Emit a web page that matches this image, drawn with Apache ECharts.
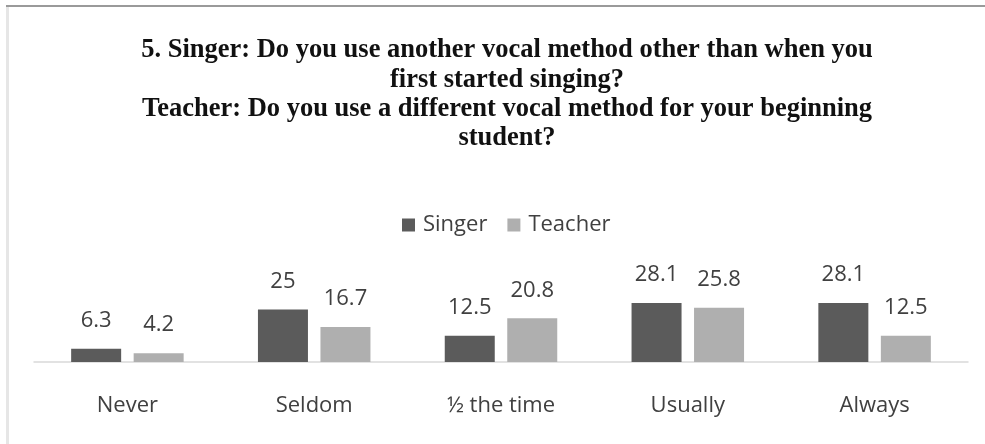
<!DOCTYPE html>
<html>
<head>
<meta charset="utf-8">
<script src="https://cdn.jsdelivr.net/npm/echarts@6/dist/echarts.min.js"></script>
<style>
  html, body { margin: 0; padding: 0; background: #fff; }
  #chart { width: 985px; height: 444px; }
</style>
</head>
<body>
<div id="chart"></div>
<script>
// Survey answers, percent of respondents
const categories = ['Never', 'Seldom', '\u00BD the time', 'Usually', 'Always'];
const singerValues = [6.3, 25, 12.5, 28.1, 28.1];
const teacherValues = [4.2, 16.7, 20.8, 25.8, 12.5];
const seriesNames = ['Singer', 'Teacher'];
const titleLines = [
  '5. Singer: Do you use another vocal method other than when you',
  'first started singing?',
  'Teacher: Do you use a different vocal method for your beginning',
  'student?'
];

const sansFont = '"Open Sans", "Liberation Sans", sans-serif';
const labelColor = '#404040';

const chart = echarts.init(document.getElementById('chart'), null, { renderer: 'canvas' });

const valueLabel = {
  show: true,
  position: 'top',
  distance: 17,
  fontFamily: sansFont,
  fontSize: 22,
  color: labelColor
};

chart.setOption({
  animation: false,
  backgroundColor: '#ffffff',
  title: {
    text: titleLines.join('\n'),
    left: 502,
    top: 31,
    textAlign: 'center',
    textStyle: {
      fontFamily: '"Liberation Serif", "Times New Roman", serif',
      fontWeight: 'bold',
      fontSize: 26.5,
      lineHeight: 29.3,
      color: '#111111'
    }
  },
  legend: {
    data: seriesNames,
    left: 397,
    top: 209,
    itemWidth: 13,
    itemHeight: 13,
    itemGap: 20,
    icon: 'rect',
    textStyle: {
      fontFamily: sansFont,
      fontSize: 22,
      color: labelColor,
      padding: [0, 0, 0, 3]
    }
  },
  grid: {
    left: 34,
    right: 17,
    top: 299,
    bottom: 82,
    containLabel: false
  },
  xAxis: {
    type: 'category',
    data: categories,
    axisLine: { show: true, lineStyle: { color: '#d9d9d9', width: 1.5 } },
    axisTick: { show: false },
    axisLabel: {
      margin: 33,
      fontFamily: sansFont,
      fontSize: 22,
      color: labelColor
    }
  },
  yAxis: {
    type: 'value',
    min: 0,
    max: 30,
    show: false,
    splitLine: { show: false }
  },
  series: [
    {
      name: seriesNames[0],
      type: 'bar',
      data: singerValues,
      barWidth: 50,
      barGap: '25%',
      itemStyle: { color: '#5b5b5b' },
      label: valueLabel
    },
    {
      name: seriesNames[1],
      type: 'bar',
      data: teacherValues,
      barWidth: 50,
      barGap: '25%',
      itemStyle: { color: '#afafaf' },
      label: valueLabel
    }
  ],
  graphic: [
    {
      // frame: dark top edge and faint left edge
      type: 'line',
      shape: { x1: 6, y1: 6, x2: 985, y2: 6 },
      style: { stroke: '#9a9a9a', lineWidth: 2 },
      silent: true
    },
    {
      type: 'line',
      shape: { x1: 7.5, y1: 7, x2: 7.5, y2: 444 },
      style: { stroke: '#e6e6e6', lineWidth: 3 },
      silent: true
    }
  ]
});
</script>
</body>
</html>
